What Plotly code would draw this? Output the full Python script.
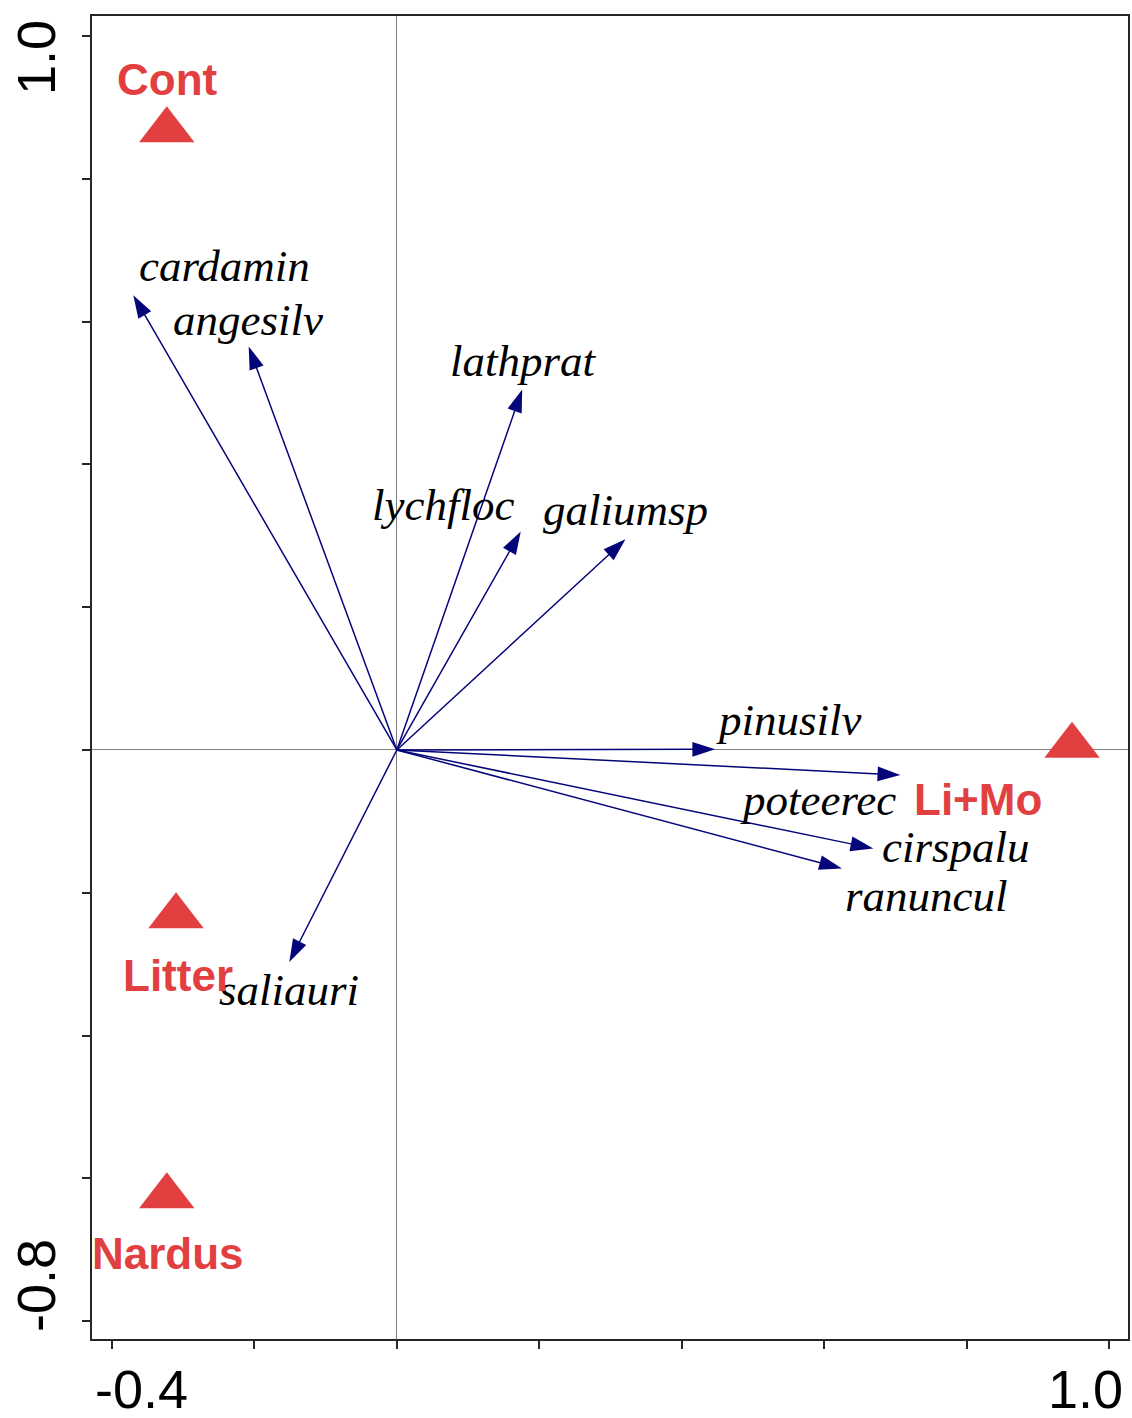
import plotly.graph_objects as go

# ---------------- data ----------------
SPECIES = ["cardamin", "angesilv", "lathprat", "lychfloc", "galiumsp",
           "pinusilv", "poteerec", "cirspalu", "ranuncul", "saliauri"]
SPECIES_X = [-0.370, -0.208, 0.176, 0.174, 0.321, 0.447, 0.707, 0.669, 0.625, -0.151]
SPECIES_Y = [0.637, 0.565, 0.505, 0.306, 0.295, 0.001, -0.035, -0.138, -0.166, -0.297]

CENTROIDS = ["Cont", "Li+Mo", "Litter", "Nardus"]
CENTROID_X = [-0.323, 0.948, -0.310, -0.323]
CENTROID_Y = [0.868, 0.006, -0.233, -0.625]

X_TICKS = [-0.4, -0.2, 0.0, 0.2, 0.4, 0.6, 0.8, 1.0]
Y_TICKS = [-0.8, -0.6, -0.4, -0.2, 0.0, 0.2, 0.4, 0.6, 0.8, 1.0]
X_TICK_LABELS = ["-0.4", "1.0"]
Y_TICK_LABELS = ["-0.8", "1.0"]

# ---------------- style ----------------
NAVY = "#05057a"
RED = "#e24040"
AXIS = "#262626"
SERIF = "Liberation Serif, Times New Roman, serif"
SANS = "Liberation Sans, Arial, sans-serif"

# label pixel offsets (dx, dy) relative to the arrow tip
SPECIES_LABEL_SHIFT = {
    "cardamin": (91, 29), "angesilv": (-1, 27), "lathprat": (1, 28),
    "lychfloc": (-78, 26), "galiumsp": (0, 29), "pinusilv": (74, 29),
    "poteerec": (-82, -25), "cirspalu": (83, 2), "ranuncul": (85, -28),
    "saliauri": (0, -28),
}
CENTROID_LABEL_SHIFT = {
    "Cont": (1, 51), "Li+Mo": (-94, -54), "Litter": (2, -59), "Nardus": (1, -57),
}

fig = go.Figure()

# species arrows from origin
for name, sx, sy in zip(SPECIES, SPECIES_X, SPECIES_Y):
    fig.add_trace(go.Scatter(
        x=[0, sx], y=[0, sy], mode="lines+markers",
        line=dict(color=NAVY, width=1.5),
        marker=dict(symbol="arrow", size=[0, 24], color=NAVY, opacity=1,
                    angleref="previous", line=dict(width=0)),
        showlegend=False, hoverinfo="skip", name=name,
    ))

# centroid triangles
fig.add_trace(go.Scatter(
    x=CENTROID_X, y=CENTROID_Y, mode="markers",
    marker=dict(symbol="triangle-up", size=48, color=RED, opacity=1, line=dict(width=0)),
    showlegend=False, hoverinfo="skip",
))

annotations = []
for name, sx, sy in zip(SPECIES, SPECIES_X, SPECIES_Y):
    dx, dy = SPECIES_LABEL_SHIFT[name]
    annotations.append(dict(
        x=sx, y=sy, xref="x", yref="y", text=name, showarrow=False,
        xshift=dx, yshift=dy, xanchor="center", yanchor="middle",
        font=dict(family=SERIF, size=45, color="black", style="italic"),
        borderpad=0,
    ))
for name, cx, cy in zip(CENTROIDS, CENTROID_X, CENTROID_Y):
    dx, dy = CENTROID_LABEL_SHIFT[name]
    annotations.append(dict(
        x=cx, y=cy, xref="x", yref="y", text=name, showarrow=False,
        xshift=dx, yshift=dy, xanchor="center", yanchor="middle",
        font=dict(family=SANS, size=44, color=RED, weight="bold"),
        borderpad=0,
    ))

# axis end labels (CANOCO style: aligned to plot edges)
tick_font = dict(family=SANS, size=54, color="black")
annotations += [
    dict(x=0, y=0, xref="paper", yref="paper", text=X_TICK_LABELS[0], showarrow=False,
         xanchor="center", yanchor="middle", xshift=49, yshift=-50, font=tick_font, borderpad=0),
    dict(x=1, y=0, xref="paper", yref="paper", text=X_TICK_LABELS[1], showarrow=False,
         xanchor="center", yanchor="middle", xshift=-43, yshift=-50, font=tick_font, borderpad=0),
    dict(x=0, y=0, xref="paper", yref="paper", text=Y_TICK_LABELS[0], showarrow=False,
         xanchor="center", yanchor="middle", xshift=-56, yshift=53, textangle=-90,
         font=tick_font, borderpad=0),
    dict(x=0, y=1, xref="paper", yref="paper", text=Y_TICK_LABELS[1], showarrow=False,
         xanchor="center", yanchor="middle", xshift=-56, yshift=-42, textangle=-90,
         font=tick_font, borderpad=0),
]

axis_common = dict(
    showgrid=False, zeroline=True, zerolinecolor="#7f7f7f", zerolinewidth=1,
    showline=True, linecolor=AXIS, linewidth=2, mirror=True,
    ticks="outside", ticklen=8, tickwidth=1.5, tickcolor=AXIS,
    showticklabels=False,
)

fig.update_layout(
    width=1132, height=1418,
    margin=dict(l=92, r=2, t=16, b=79),
    paper_bgcolor="white", plot_bgcolor="white",
    xaxis=dict(range=[-0.428, 1.0266], tickvals=X_TICKS, **axis_common),
    yaxis=dict(range=[-0.825, 1.028], tickvals=Y_TICKS, **axis_common),
    annotations=annotations,
    showlegend=False,
)

# remove the default page margin so the figure fills the window exactly
fig.write_html(
    "out.html",
    config={"displayModeBar": False},
    post_script="document.body.style.margin='0';document.body.style.overflow='hidden';",
)
